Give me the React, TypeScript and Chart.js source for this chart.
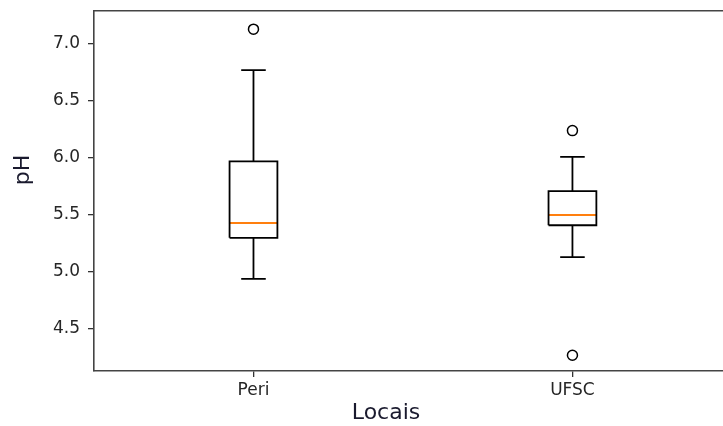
import React, { useEffect, useRef } from "react";
import { Chart, registerables } from "chart.js";

Chart.register(...registerables);

const categories = ["Peri", "UFSC"];
const positions = [1, 2];
const q1 = [5.3, 5.41];
const q3 = [5.97, 5.71];
const medians = [5.43, 5.5];
const whiskerLow = [4.94, 5.13];
const whiskerHigh = [6.77, 6.01];
const outliers: number[][] = [[7.13], [6.24, 4.27]];
const yTicks = [4.5, 5.0, 5.5, 6.0, 6.5, 7.0];

const BOX_HALF = 0.075;
const CAP_HALF = 0.0385;
const GAP = (x: number) => ({ x, y: null as any });

const zeroPad = (s: any) => {
  s.paddingTop = 0;
  s.paddingBottom = 0;
  s.paddingLeft = 0;
  s.paddingRight = 0;
};

export default function App() {
  const ref = useRef<HTMLCanvasElement | null>(null);

  useEffect(() => {
    if (!ref.current) return;

    const boxPts: any[] = [];
    const whiskerPts: any[] = [];
    const capPts: any[] = [];
    const medPts: any[] = [];
    const outPts: any[] = [];
    positions.forEach((p, i) => {
      boxPts.push(
        { x: p - BOX_HALF, y: q1[i] },
        { x: p + BOX_HALF, y: q1[i] },
        { x: p + BOX_HALF, y: q3[i] },
        { x: p - BOX_HALF, y: q3[i] },
        { x: p - BOX_HALF, y: q1[i] },
        GAP(p)
      );
      whiskerPts.push(
        { x: p, y: q3[i] },
        { x: p, y: whiskerHigh[i] },
        GAP(p),
        { x: p, y: q1[i] },
        { x: p, y: whiskerLow[i] },
        GAP(p)
      );
      capPts.push(
        { x: p - CAP_HALF, y: whiskerHigh[i] },
        { x: p + CAP_HALF, y: whiskerHigh[i] },
        GAP(p),
        { x: p - CAP_HALF, y: whiskerLow[i] },
        { x: p + CAP_HALF, y: whiskerLow[i] },
        GAP(p)
      );
      medPts.push(
        { x: p - BOX_HALF, y: medians[i] },
        { x: p + BOX_HALF, y: medians[i] },
        GAP(p)
      );
      outliers[i].forEach((v) => outPts.push({ x: p, y: v }));
    });

    const lineDs = (data: any[], color: string) => ({
      type: "line" as const,
      data,
      borderColor: color,
      borderWidth: 1.8,
      pointRadius: 0,
      showLine: true,
      spanGaps: false,
      fill: false,
      tension: 0,
      borderCapStyle: "butt" as const,
      borderJoinStyle: "miter" as const,
    });

    const axisTitles = {
      id: "axisTitles",
      afterDraw(chart: any) {
        const { ctx, chartArea } = chart;
        ctx.save();
        ctx.fillStyle = "#1a1a2e";
        ctx.font = "22px 'DejaVu Sans'";
        ctx.textAlign = "center";
        ctx.textBaseline = "alphabetic";
        ctx.fillText("Locais", chartArea.left + 292, 419);
        ctx.translate(29, chartArea.top + 159);
        ctx.rotate(-Math.PI / 2);
        ctx.fillText("pH", 0, 0);
        ctx.restore();
      },
    };

    const chart = new Chart(ref.current, {
      type: "scatter",
      data: {
        datasets: [
          lineDs(boxPts, "#000000"),
          lineDs(whiskerPts, "#000000"),
          lineDs(capPts, "#000000"),
          lineDs(medPts, "#ff7f0e"),
          {
            type: "scatter" as const,
            data: outPts,
            pointStyle: "circle",
            pointRadius: 5,
            pointBorderWidth: 1.5,
            pointBorderColor: "#000000",
            pointBackgroundColor: "rgba(0,0,0,0)",
            borderColor: "#000000",
            backgroundColor: "rgba(0,0,0,0)",
          } as any,
        ],
      },
      options: {
        animation: false,
        responsive: false,
        maintainAspectRatio: false,
        layout: { padding: 0, autoPadding: false },
        plugins: {
          legend: { display: false },
          tooltip: { enabled: false },
          title: { display: false },
        },
        scales: {
          x: {
            type: "linear",
            position: "bottom",
            min: 0.5,
            max: 2.472,
            afterBuildTicks: (s: any) => {
              s.ticks = positions.map((v) => ({ value: v }));
            },
            afterFit: (s: any) => {
              s.height = 55;
              zeroPad(s);
            },
            ticks: {
              autoSkip: false,
              maxRotation: 0,
              padding: 3,
              color: "#262626",
              font: { family: "'DejaVu Sans'", size: 17 },
              callback: (v: any) => {
                const i = positions.indexOf(Number(v));
                return i >= 0 ? categories[i] : "";
              },
            },
            grid: {
              display: true,
              drawOnChartArea: false,
              drawTicks: true,
              tickLength: 6,
              color: "#333333",
              lineWidth: 1.3,
            },
            border: { display: true, color: "#444444", width: 1.6 },
          },
          x2: {
            type: "linear",
            position: "top",
            min: 0.5,
            max: 2.472,
            afterFit: (s: any) => {
              s.height = 11;
              zeroPad(s);
            },
            ticks: { display: false },
            grid: { display: false, drawTicks: false },
            border: { display: true, color: "#444444", width: 1.6 },
          },
          y: {
            type: "linear",
            min: 4.132,
            max: 7.289,
            afterBuildTicks: (s: any) => {
              s.ticks = yTicks.map((v) => ({ value: v }));
            },
            afterFit: (s: any) => {
              s.width = 94;
              zeroPad(s);
            },
            ticks: {
              padding: 8,
              color: "#262626",
              font: { family: "'DejaVu Sans'", size: 17 },
              callback: (v: any) => Number(v).toFixed(1),
            },
            grid: {
              display: true,
              drawOnChartArea: false,
              drawTicks: true,
              tickLength: 6,
              color: "#333333",
              lineWidth: 1.3,
            },
            border: { display: true, color: "#444444", width: 1.6 },
          },
        },
      } as any,
      plugins: [axisTitles],
    });

    return () => chart.destroy();
  }, []);

  return (
    <div
      style={{
        position: "fixed",
        left: 0,
        top: 0,
        width: 723,
        height: 426,
        background: "#ffffff",
      }}
    >
      <canvas ref={ref} width={723} height={426} style={{ width: 723, height: 426 }} />
    </div>
  );
}
